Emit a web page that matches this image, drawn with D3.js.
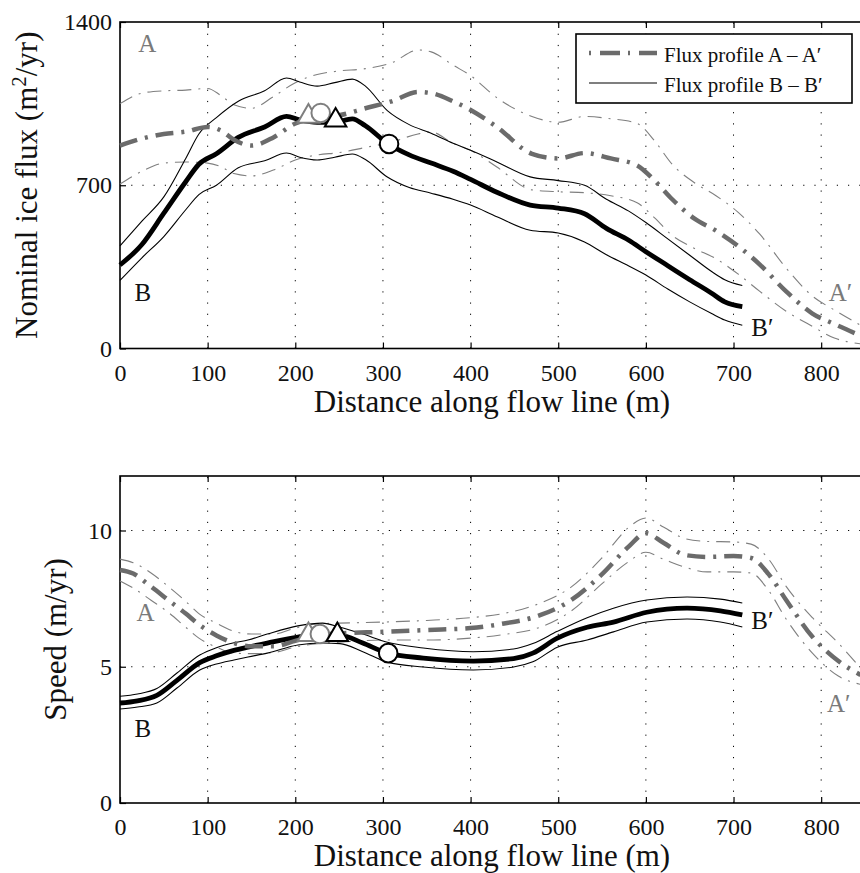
<!DOCTYPE html>
<html><head><meta charset="utf-8">
<script src="https://cdn.jsdelivr.net/npm/d3@7"></script>
<style>
body{margin:0;background:#fff;}
svg, svg text{font-family:"Liberation Serif","Tinos","Times New Roman",Times,"Nimbus Roman","Nimbus Roman No9 L","DejaVu Serif","Noto Serif",FreeSerif,serif !important;}
</style></head>
<body><svg id="c" width="860" height="873"></svg>
<script>
// ---------- DATA ----------
const xTicks = [0,100,200,300,400,500,600,700,800];
const fluxTicks = [0,700,1400];
const speedTicks = [0,5,10];

// Top: flux profile A–A'
const distFluxA = [0,25,50,75,100,115,130,150,175,200,225,250,280,310,340,355,380,400,430,470,500,530,560,590,610,630,655,680,705,730,760,790,815,845];
const fluxA   = [870,900,920,930,950,935,895,870,905,965,990,1000,1030,1060,1100,1095,1060,1023,950,835,815,838,815,785,720,640,558,505,440,360,245,150,105,55];
const fluxAHi = [1050,1095,1105,1108,1115,1085,1045,1030,1080,1140,1175,1190,1200,1225,1280,1272,1215,1170,1075,995,970,995,985,965,890,790,712,655,585,490,345,225,165,100];
const fluxALo = [705,760,795,800,795,780,750,740,765,808,830,840,862,885,920,928,880,850,778,680,672,668,655,625,560,485,430,385,320,245,160,95,45,20];

// Top: flux profile B–B'
const distFluxB = [0,25,50,75,90,110,135,165,190,205,225,245,265,280,305,330,355,380,400,430,468,500,530,555,580,600,625,650,675,690,710];
const fluxB   = [358,446,580,715,790,835,905,950,995,980,970,970,985,955,880,830,795,760,725,670,615,602,578,515,465,415,355,295,237,200,180];
const fluxBHi = [440,546,650,815,920,990,1060,1105,1160,1143,1125,1140,1155,1125,1020,960,923,880,850,800,736,720,700,640,590,540,470,400,330,295,270];
const fluxBLo = [292,389,480,595,660,700,775,805,838,820,808,820,834,810,735,690,666,640,615,565,507,495,457,402,355,315,255,200,150,122,100];

// Bottom: speed profile A–A'
const distSpeedA = [0,15,35,55,75,90,110,130,150,175,200,225,250,300,350,400,435,480,515,550,580,600,620,645,670,700,720,740,760,790,820,845];
const speedA   = [8.55,8.42,7.95,7.45,6.95,6.55,6.15,5.87,5.75,5.75,5.95,6.15,6.22,6.28,6.35,6.42,6.57,6.9,7.45,8.4,9.4,9.9,9.55,9.1,9.03,9.06,8.99,8.4,7.45,6.1,5.2,4.7];
const speedAHi = [8.95,8.82,8.45,7.95,7.4,6.95,6.6,6.3,6.2,6.2,6.42,6.57,6.6,6.64,6.7,6.8,6.94,7.34,7.93,9.0,10.1,10.46,10.13,9.7,9.6,9.58,9.5,8.95,7.95,6.8,5.85,4.95];
const speedALo = [8.15,7.89,7.45,7.0,6.45,6.05,5.72,5.5,5.48,5.52,5.72,5.85,5.9,5.98,5.98,6.05,6.17,6.46,7.05,8.05,8.85,9.2,8.95,8.65,8.48,8.48,8.44,7.8,6.75,5.5,4.65,4.35];

// Bottom: speed profile B–B'
const distSpeedB = [0,20,42,65,91,110,130,146,168,203,231,251,277,305,346,403,449,471,499,533,563,601,647,685,710];
const speedB   = [3.67,3.75,3.95,4.5,5.15,5.4,5.6,5.72,5.87,6.09,6.2,6.17,5.87,5.5,5.32,5.21,5.3,5.5,6.05,6.45,6.64,7.0,7.15,7.05,6.9];
const speedBHi = [3.92,4.0,4.2,4.77,5.43,5.7,5.88,5.98,6.2,6.5,6.6,6.45,6.2,5.9,5.69,5.55,5.65,5.85,6.3,6.8,7.15,7.45,7.56,7.48,7.34];
const speedBLo = [3.45,3.52,3.67,4.22,4.88,5.1,5.25,5.36,5.5,5.8,5.87,5.85,5.55,5.17,4.99,4.88,4.99,5.18,5.72,5.98,6.28,6.64,6.75,6.64,6.46];

// Markers
const markerKinds  = ["triangle","circle","triangle","circle"];
const markerColors = ["gray","gray","black","black"];
const markerDist   = [215,229,246,307];
const markerFlux   = [995,1010,978,877];
const markerDist2  = [215,228,248,306];
const markerSpeed  = [6.17,6.2,6.17,5.5];

// Endpoint labels
const labelText   = ["A","B","B\u2032","A\u2032"];
const labelColors = ["gray","black","black","gray"];
const labelDistTop = [31,26,733,822];
const labelFlux    = [1310,242,92,242];
const labelDistBot = [29,26,733,820];
const labelSpeed   = [7.0,2.75,6.72,3.67];

const legendLabels = ["Flux profile A \u2013 A\u2032","Flux profile B \u2013 B\u2032"];

// ---------- DRAWING ----------
const FONT = "'Liberation Serif',Tinos,'Times New Roman',Times,'Nimbus Roman','DejaVu Serif','Noto Serif',serif";
const svg = d3.select("#c");
const GRAY_THICK = "#6b6b6b", GRAY_THIN = "#7f7f7f", GRAY_TXT = "#7a7a7a";
const x = d3.scaleLinear().domain([0,850]).range([120,865]);

function panel(top, bottom, yDomain, yTicks, yTitle, titleX, seriesA, seriesB, mk, labels){
  const y = d3.scaleLinear().domain(yDomain).range([bottom, top]);
  const g = svg.append("g");
  const grid = g.append("g").attr("stroke","#000").attr("stroke-width",1).attr("stroke-dasharray","1.2,10");
  xTicks.filter(t=>t>0).forEach(t=>{
    grid.append("line").attr("x1",x(t)).attr("x2",x(t)).attr("y1",bottom).attr("y2",top);
  });
  yTicks.filter(t=>t>yDomain[0] && t<yDomain[1]).forEach(t=>{
    grid.append("line").attr("x1",x(0)).attr("x2",865).attr("y1",y(t)).attr("y2",y(t));
  });
  const ax = g.append("g").attr("transform",`translate(0,${bottom})`)
    .call(d3.axisBottom(x).tickValues(xTicks).tickSizeInner(-6).tickSizeOuter(0).tickPadding(15).tickFormat(d3.format("d")));
  const axTop = g.append("g").attr("transform",`translate(0,${top})`)
    .call(d3.axisTop(x).tickValues(xTicks).tickSizeInner(-6).tickSizeOuter(0).tickFormat(""));
  const ay = g.append("g").attr("transform",`translate(${x(0)},0)`)
    .call(d3.axisLeft(y).tickValues(yTicks).tickSizeInner(-6).tickSizeOuter(0).tickPadding(8).tickFormat(d3.format("d")));
  [ax,axTop,ay].forEach(a=>{
    a.attr("font-family",FONT);
    a.select(".domain").remove();
    a.selectAll("line").attr("stroke","#000").attr("stroke-width",1.2);
    a.selectAll("text").attr("font-size",24).attr("fill","#111");
  });
  g.append("rect").attr("x",x(0)).attr("y",top).attr("width",870-x(0)).attr("height",bottom-top)
    .attr("fill","none").attr("stroke","#000").attr("stroke-width",1.6);
  g.append("text").attr("x",492).attr("y",bottom+63).attr("text-anchor","middle")
    .attr("font-size",31).attr("fill","#111").text("Distance along flow line (m)");
  const yt = g.append("text").attr("transform",`translate(${titleX},${(top+bottom)/2}) rotate(-90)`)
    .attr("text-anchor","middle").attr("font-size",31).attr("fill","#111");
  yTitle(yt);

  const line = d3.line().curve(d3.curveMonotoneX).x(d=>x(d[0])).y(d=>y(d[1]));
  const zip = (xs,ys)=>xs.map((v,i)=>[v,ys[i]]);
  const L = g.append("g").attr("fill","none");
  [seriesA.hi, seriesA.lo].forEach(v=>{
    L.append("path").attr("d",line(zip(seriesA.x,v))).attr("stroke",GRAY_THIN).attr("stroke-width",1.1)
      .attr("stroke-dasharray","14,7,2,7");
  });
  [seriesB.hi, seriesB.lo].forEach(v=>{
    L.append("path").attr("d",line(zip(seriesB.x,v))).attr("stroke","#000").attr("stroke-width",1.1);
  });
  L.append("path").attr("d",line(zip(seriesB.x,seriesB.c))).attr("stroke","#000").attr("stroke-width",4.8);
  L.append("path").attr("d",line(zip(seriesA.x,seriesA.c))).attr("stroke",GRAY_THICK).attr("stroke-width",4.5)
    .attr("stroke-dasharray","18,8,3,8");
  mk.d.forEach((dv,i)=>{
    const col = markerColors[i]==="gray" ? GRAY_THIN : "#000";
    const sym = markerKinds[i]==="circle" ? d3.symbolCircle : d3.symbolTriangle;
    const size = markerKinds[i]==="circle" ? 270 : 200;
    g.append("path").attr("d",d3.symbol().type(sym).size(size)())
      .attr("transform",`translate(${x(dv)},${y(mk.v[i])})`)
      .attr("fill","#fff").attr("stroke",col).attr("stroke-width",2);
  });
  labelText.forEach((t,i)=>{
    g.append("text").attr("x",x(labels.d[i])).attr("y",y(labels.v[i])).attr("dy","0.35em")
      .attr("text-anchor","middle").attr("font-size",25)
      .attr("fill",labelColors[i]==="gray"?GRAY_TXT:"#111").text(t);
  });
  return {y,g};
}

panel(22,348.5,[0,1400],fluxTicks,
  t=>{ t.append("tspan").text("Nominal ice flux (m");
       t.append("tspan").attr("dy",-11).attr("font-size",21).text("2");
       t.append("tspan").attr("dy",11).text("/yr)"); },
  37,
  {x:distFluxA,c:fluxA,hi:fluxAHi,lo:fluxALo},
  {x:distFluxB,c:fluxB,hi:fluxBHi,lo:fluxBLo},
  {d:markerDist,v:markerFlux},
  {d:labelDistTop,v:labelFlux});

panel(476,803,[0,12],speedTicks,
  t=>{ t.text("Speed (m/yr)"); },
  66,
  {x:distSpeedA,c:speedA,hi:speedAHi,lo:speedALo},
  {x:distSpeedB,c:speedB,hi:speedBHi,lo:speedBLo},
  {d:markerDist2,v:markerSpeed},
  {d:labelDistBot,v:labelSpeed});

const lg = svg.append("g");
lg.append("rect").attr("x",576).attr("y",34).attr("width",276).attr("height",69)
  .attr("fill","#fff").attr("stroke","#000").attr("stroke-width",1.6);
lg.append("line").attr("x1",589).attr("x2",657).attr("y1",53).attr("y2",53)
  .attr("stroke",GRAY_THICK).attr("stroke-width",4.5).attr("stroke-dasharray","2,9,20,8,2,9,20");
lg.append("line").attr("x1",589).attr("x2",657).attr("y1",83).attr("y2",83)
  .attr("stroke","#000").attr("stroke-width",1.1);
legendLabels.forEach((t,i)=>{
  lg.append("text").attr("x",664).attr("y",62+i*30).attr("font-size",21).attr("fill","#111").text(t);
});
</script></body></html>
